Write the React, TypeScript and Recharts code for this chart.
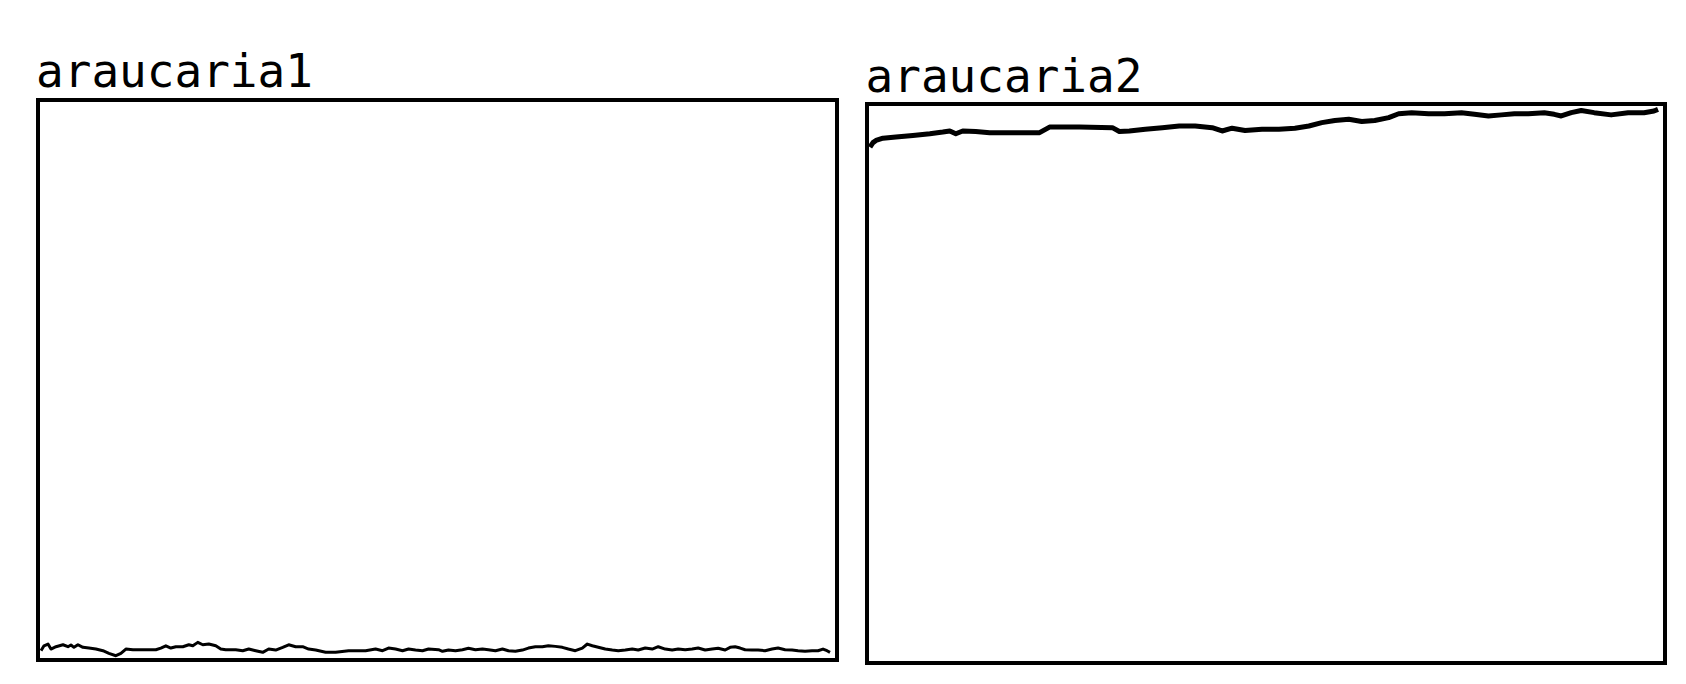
import { Line, LineChart, XAxis, YAxis } from "recharts";

// araucaria1: step index and value (share of the panel height, %)
const leftSteps = [
  1, 4, 8, 11, 16, 23, 28, 31, 34, 38, 43, 49, 56, 63, 69, 76, 81, 86, 93, 103,
  116, 121, 126, 131, 136, 143, 149, 153, 158, 163, 169, 176, 181, 186, 196, 203,
  209, 216, 223, 229, 236, 243, 249, 256, 263, 269, 276, 286, 296, 309, 326, 336,
  343, 349, 356, 363, 369, 376, 383, 389, 399, 403, 409, 416, 423, 429, 436, 443,
  449, 456, 463, 469, 476, 483, 489, 496, 503, 509, 516, 523, 529, 536, 543, 548,
  553, 559, 566, 573, 579, 586, 593, 599, 606, 613, 619, 626, 633, 639, 646, 653,
  659, 666, 673, 679, 686, 691, 696, 701, 706, 713, 719, 726, 733, 739, 746, 753,
  759, 766, 773, 779, 784, 788, 791,
];
const leftValues = [
  1.31, 2.2, 2.51, 1.61, 2.03, 2.38, 2.03, 2.33, 1.92, 2.38, 1.92, 1.79, 1.61, 1.31,
  0.84, 0.41, 0.84, 1.61, 1.49, 1.49, 1.49, 1.79, 2.2, 1.79, 2.03, 2.03, 2.38, 2.2,
  2.81, 2.38, 2.51, 2.2, 1.61, 1.49, 1.49, 1.31, 1.61, 1.31, 1.02, 1.61, 1.43, 1.92,
  2.38, 2.03, 2.03, 1.61, 1.43, 1.02, 1.02, 1.31, 1.31, 1.61, 1.31, 1.79, 1.61, 1.31,
  1.61, 1.43, 1.31, 1.61, 1.49, 1.2, 1.43, 1.31, 1.49, 1.74, 1.49, 1.61, 1.49, 1.31,
  1.61, 1.31, 1.2, 1.43, 1.79, 2.03, 2.03, 2.2, 2.09, 1.92, 1.61, 1.31, 1.79, 2.51,
  2.2, 1.92, 1.61, 1.43, 1.31, 1.43, 1.61, 1.43, 1.79, 1.61, 2.03, 1.61, 1.43, 1.61,
  1.49, 1.61, 1.79, 1.43, 1.61, 1.74, 1.43, 1.92, 2.03, 1.79, 1.49, 1.43, 1.43, 1.31,
  1.61, 1.79, 1.49, 1.43, 1.31, 1.2, 1.31, 1.31, 1.61, 1.31, 1.02,
];

// araucaria2
const rightSteps = [
  1, 4, 7, 14, 27, 44, 61, 74, 81, 87, 94, 107, 121, 144, 171, 181, 211, 244, 251,
  261, 277, 294, 311, 327, 344, 354, 364, 377, 394, 411, 427, 441, 454, 467, 481,
  494, 507, 521, 531, 544, 561, 577, 594, 607, 621, 634, 647, 661, 677, 687, 694,
  704, 714, 727, 744, 761, 777, 787, 791,
];
const rightValues = [
  92.6, 93.4, 93.8, 94.2, 94.4, 94.7, 95.0, 95.3, 95.5, 95.0, 95.5, 95.4, 95.2, 95.2,
  95.2, 96.2, 96.2, 96.1, 95.4, 95.5, 95.8, 96.1, 96.4, 96.4, 96.1, 95.5, 96.0, 95.6,
  95.8, 95.8, 96.0, 96.4, 97.0, 97.4, 97.6, 97.2, 97.4, 97.9, 98.6, 98.8, 98.6, 98.6,
  98.8, 98.5, 98.2, 98.4, 98.6, 98.6, 98.8, 98.5, 98.2, 98.8, 99.2, 98.8, 98.4, 98.8,
  98.8, 99.1, 99.4,
];

const toRows = (steps: number[], values: number[]) =>
  steps.map((step, i) => ({ step, value: values[i] }));

const BORDER = 4;

function Panel({
  data,
  left,
  top,
  width,
  height,
  strokeWidth,
}: {
  data: { step: number; value: number }[];
  left: number;
  top: number;
  width: number;
  height: number;
  strokeWidth: number;
}) {
  const inner = { w: width - 2 * BORDER, h: height - 2 * BORDER };
  return (
    <div
      style={{
        position: "absolute",
        left,
        top,
        width,
        height,
        border: `${BORDER}px solid #000`,
        boxSizing: "border-box",
      }}
    >
      <LineChart width={inner.w} height={inner.h} data={data} margin={{ top: 0, right: 0, bottom: 0, left: 0 }}>
        <XAxis type="number" dataKey="step" domain={[0, 796]} hide />
        <YAxis type="number" domain={[0, 100]} hide />
        <Line
          type="linear"
          dataKey="value"
          stroke="#000"
          strokeWidth={strokeWidth}
          strokeLinejoin="round"
          dot={false}
          isAnimationActive={false}
        />
      </LineChart>
    </div>
  );
}

export default function App() {
  return (
    <div style={{ position: "absolute", left: 0, top: 0, width: 1686, height: 684, background: "#fff" }}>
      <Panel data={toRows(leftSteps, leftValues)} left={36} top={98} width={803} height={564} strokeWidth={3} />
      <Panel data={toRows(rightSteps, rightValues)} left={865} top={102} width={802} height={563} strokeWidth={5} />
      <svg width={1686} height={684} style={{ position: "absolute", left: 0, top: 0, pointerEvents: "none" }}>
        <text x={36} y={87} fontFamily="DejaVu Sans Mono" fontSize={46} fill="#000">
          araucaria1
        </text>
        <text x={865.5} y={92} fontFamily="DejaVu Sans Mono" fontSize={46} fill="#000">
          araucaria2
        </text>
      </svg>
    </div>
  );
}
